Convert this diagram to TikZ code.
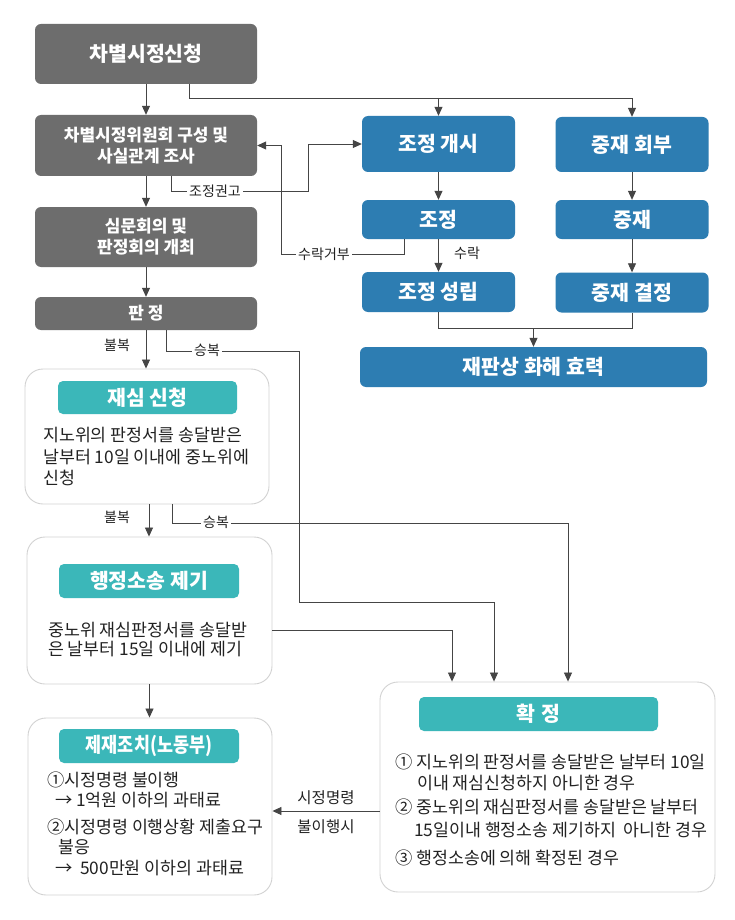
\documentclass[tikz,border=0pt]{standalone}
\usepackage{fontspec}
\setmainfont{Noto Sans CJK KR}
\newfontfamily\condfont[FakeStretch=0.85]{Noto Sans CJK KR}
\usetikzlibrary{arrows.meta}

\definecolor{boxgray}{HTML}{6D6D6D}
\definecolor{boxblue}{HTML}{2D7DB2}
\definecolor{headteal}{HTML}{3BB7B9}
\definecolor{rimgray}{HTML}{D2D2D2}
\definecolor{wiregray}{HTML}{454545}
\definecolor{inkgray}{HTML}{222222}

\tikzset{
  graybox/.style={fill=boxgray, text=white, rounded corners=6pt, align=center, inner sep=0pt,
    font=\bfseries\fontsize{17}{21}\selectfont},
  bluebox/.style={fill=boxblue, text=white, rounded corners=6pt, inner sep=0pt,
    font=\bfseries\fontsize{20.5}{23}\selectfont},
  tealhead/.style={fill=headteal, text=white, rounded corners=5pt, inner sep=0pt,
    font=\bfseries\fontsize{20.5}{23}\selectfont},
  frame/.style={draw=rimgray, fill=white, line width=0.9pt, rounded corners=18pt, inner sep=0pt},
  wire/.style={draw=wiregray, line width=0.85pt},
  arr/.style={wire, -{Triangle[width=8pt,length=9pt]}},
  tag/.style={fill=white, inner sep=2.5pt, text=inkgray, font=\fontsize{14}{16}\selectfont},
  body/.style={inner sep=0pt, anchor=base west, text=inkgray, font=\fontsize{17.3}{20}\selectfont},
}

\begin{document}
\begin{tikzpicture}[x=1pt, y=-1pt]
  \fill[white] (0,0) rectangle (734,920);
  \useasboundingbox (0,0) rectangle (734,920);

  % left column
  \node[graybox, minimum width=222pt, minimum height=60pt, font=\bfseries\fontsize{20.5}{23}\selectfont] (apply) at (146,54) {차별시정신청};
  \node[graybox, minimum width=222pt, minimum height=61pt] (committee) at (146,145.5) {차별시정위원회 구성 및\\사실관계 조사};
  \node[graybox, minimum width=222pt, minimum height=60pt] (hearing) at (146,237) {심문회의 및\\판정회의 개최};
  \node[graybox, minimum width=222pt, minimum height=33pt] (ruling) at (146,313.5) {판\hspace{4pt}정};

  % mediation and arbitration
  \node[bluebox, minimum width=153pt, minimum height=56pt] (mstart) at (438.5,144) {조정 개시};
  \node[bluebox, minimum width=153pt, minimum height=55pt] (astart) at (632,144.5) {중재 회부};
  \node[bluebox, minimum width=153pt, minimum height=39pt] (med) at (438.5,219.5) {조정};
  \node[bluebox, minimum width=153pt, minimum height=39pt] (arb) at (632,219.5) {중재};
  \node[bluebox, minimum width=153pt, minimum height=40pt] (mdone) at (438.5,292) {조정 성립};
  \node[bluebox, minimum width=153pt, minimum height=40pt] (adone) at (632,292.5) {중재 결정};
  \node[bluebox, minimum width=347pt, minimum height=40pt] (effect) at (533.5,367) {재판상 화해 효력};

  % framed steps
  \node[frame, minimum width=244pt, minimum height=135pt] (review) at (147,436.5) {};
  \node[frame, minimum width=245pt, minimum height=147pt] (suit) at (149.5,610.5) {};
  \node[frame, minimum width=244pt, minimum height=177pt] (sanction) at (150,806.5) {};
  \node[frame, minimum width=335pt, minimum height=210pt] (final) at (547.5,787) {};

  \node[tealhead, minimum width=179pt, minimum height=33pt] (reviewhead) at (147.5,397.5) {재심 신청};
  \node[tealhead, minimum width=180pt, minimum height=34pt] (suithead) at (149,581) {행정소송 제기};
  \node[tealhead, minimum width=180pt, minimum height=34pt, font=\condfont\bfseries\fontsize{20.5}{23}\selectfont] (sanctionhead) at (149,746) {제재조치(노동부)};
  \node[tealhead, minimum width=239pt, minimum height=34pt] (finalhead) at (538.5,714) {확\hspace{7pt}정};

  \foreach \t/\y [count=\i] in {지노위의 판정서를 송달받은/441, 날부터 10일 이내에 중노위에/463, 신청/484}
    \node[body] (rv\i) at (43,\y) {\t};
  \foreach \t/\y [count=\i] in {중노위 재심판정서를 송달받/636, 은 날부터 15일 이내에 제기/655}
    \node[body] (st\i) at (48,\y) {\t};
  \foreach \x/\y/\t [count=\i] in {47/786/①시정명령 불이행, 55/806/→ 1억원 이하의 과태료,
      47/833/②시정명령 이행상황 제출요구, 58/853/불응, 55/874/→~~500만원 이하의 과태료}
    \node[body] (sc\i) at (\x,\y) {\t};
  \foreach \x/\y/\t [count=\i] in {395/768/① 지노위의 판정서를 송달받은 날부터 10일, 417/789/이내 재심신청하지 아니한 경우,
      395/813/② 중노위의 재심판정서를 송달받은 날부터, 414/836/15일이내 행정소송 제기하지~~아니한 경우,
      395/864/③ 행정소송에 의해 확정된 경우}
    \node[body] (fn\i) at (\x,\y) {\t};

  % bend points
  \coordinate (fork) at (0,98);
  \coordinate (advice) at (308,191);
  \coordinate (refuse) at (281,254);
  \coordinate (merge) at (0,328);
  \coordinate (win1) at (299,351);
  \coordinate (win1low) at (0,602);
  \coordinate (win2) at (0,523);
  \coordinate (col1) at (452,0);
  \coordinate (col2) at (494,0);
  \coordinate (col3) at (568,0);

  \draw[arr] (apply) -- (committee);
  \draw[arr] (committee) -- (hearing);
  \draw[arr] (hearing) -- (ruling);
  \draw[arr] ([xshift=43pt]apply.south) |- (astart.north |- fork) -- (astart.north);
  \draw[arr] (mstart.north |- fork) -- (mstart.north);
  \draw[arr] (mstart) -- (med);
  \draw[arr] (med) -- (mdone);
  \draw[arr] (astart) -- (arb);
  \draw[arr] (arb) -- (adone);
  \draw[wire] (mdone.south) |- (merge -| adone.south) -- (adone.south);
  \draw[arr] (merge -| effect.north) -- (effect.north);

  \draw[arr] ([xshift=25pt]committee.south) |- (advice) |- (mstart.west);
  \node[tag] (advtag) at (215,191) {조정권고};
  \draw[arr] ([xshift=-34.5pt]med.south) |- (refuse) |- (committee.east);
  \node[tag] (reftag) at (324,254) {수락거부};
  \node[tag, fill=none] (acctag) at (467,253) {수락};

  \draw[arr] (ruling.south) -- (ruling.south |- review.north);
  \node[tag] (obj1) at (117,345) {불복};
  \draw[arr] ([xshift=20pt]ruling.south) |- (win1) |- (col2 |- win1low) -- (final.north -| col2);
  \node[tag] (ok1) at (207,350) {승복};
  \draw[arr] ([xshift=2pt]review.south) -- ([xshift=2pt]review.south |- suit.north);
  \node[tag] (obj2) at (117,517) {불복};
  \draw[arr] ([xshift=25pt]review.south) |- (col3 |- win2) -- (final.north -| col3);
  \node[tag] (ok2) at (216,522) {승복};
  \draw[arr] ([yshift=-19.5pt]suit.east) -| (final.north -| col1);
  \draw[arr] (suit.south) -- (suit.south |- sanction.north);

  \draw[arr] ([yshift=-24pt]final.west) -- ([yshift=-24pt]final.west -| sanction.east);
  \node[tag, font=\fontsize{15.5}{17}\selectfont] (order1) at (326,798) {시정명령};
  \node[tag, font=\fontsize{15.5}{17}\selectfont] (order2) at (326,827) {불이행시};
\end{tikzpicture}
\end{document}
